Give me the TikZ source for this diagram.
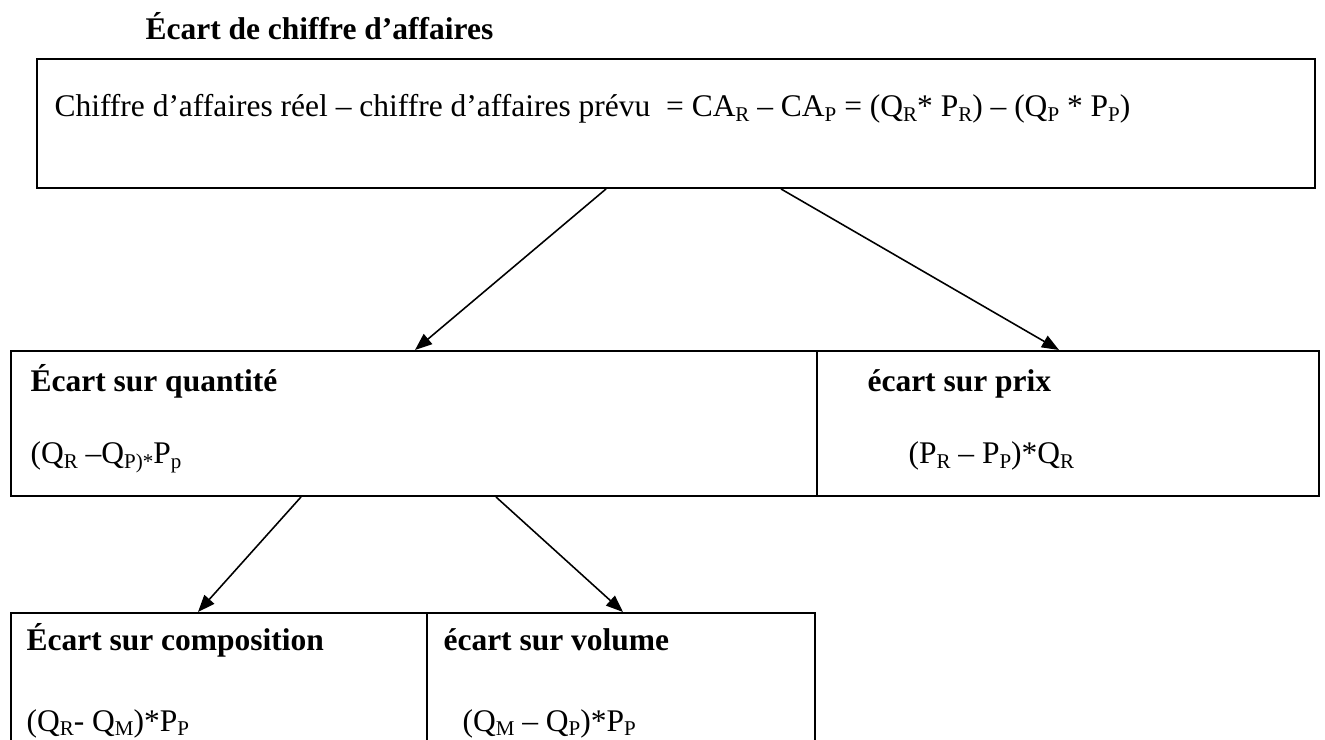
\documentclass[tikz,border=0pt]{standalone}
\usepackage{fontspec}
\setmainfont{Liberation Serif}
\usetikzlibrary{arrows.meta, calc}
% indice a la Word (petit, a peine descendu)
\newcommand{\ix}[1]{\raisebox{-0.15em}{\fontsize{8}{8}\selectfont #1}}

\begin{document}
\begin{tikzpicture}[
    x=0.381pt, y=-0.381pt,
    >={Triangle[length=6.5pt, width=5pt]},
    % 1. cadres (cellules)
    cell/.style={
        draw=black,
        line width=0.8pt,
        anchor=north west,
        inner sep=0pt
    },
    % 2. textes
    txt/.style={
        anchor=base west,
        inner sep=0pt,
        font=\fontsize{12}{14}\selectfont
    },
    head/.style={
        txt,
        font=\fontsize{12}{14}\selectfont\bfseries
    },
    % fleches
    arrow/.style={
        ->,
        line width=0.6pt,
        draw=black
    }
]
    \useasboundingbox (0,0) rectangle (1325,740);

    % --- 1. Titre et cadre du haut ---
    \node[head] (title) at (145,40) {Écart de chiffre d’affaires};

    \node[cell, minimum width=486.9pt, minimum height=49.1pt] (ca) at (36,58) {};
    \node[txt] (catext) at (54,117)
        {Chiffre d’affaires réel – chiffre d’affaires prévu \ = CA\ix{R} – CA\ix{P} = (Q\ix{R}* P\ix{R}) – (Q\ix{P} * P\ix{P})};

    % --- 2. Ecart sur quantite / ecart sur prix ---
    \node[cell, minimum width=307.1pt, minimum height=55.2pt] (qte) at (10,350) {};
    \node[cell, minimum width=191.3pt, minimum height=55.2pt] (prix) at (816,350) {};

    \node[head] (qtehead) at (30,392) {Écart sur quantité};
    \node[txt] (qteform) at (30,464) {(Q\ix{R} –Q\ix{P)*}P\ix{p}};
    \node[head] (prixhead) at (867,392) {écart sur prix};
    \node[txt] (prixform) at (908,464) {(P\ix{R} – P\ix{P})*Q\ix{R}};

    % --- 3. Composition / volume (cadre ouvert en bas) ---
    \node[cell, minimum width=158.5pt, minimum height=56.4pt] (comp) at (10,612) {};
    \node[cell, minimum width=147.8pt, minimum height=56.4pt] (vol) at (426,612) {};

    \node[head] (comphead) at (26,650) {Écart sur composition};
    \node[txt] (compform) at (26,731) {(Q\ix{R}- Q\ix{M})*P\ix{P}};
    \node[head] (volhead) at (443,650) {écart sur volume};
    \node[txt] (volform) at (462,731) {(Q\ix{M} – Q\ix{P})*P\ix{P}};

    % --- 4. Fleches ---
    \draw[arrow] ($(ca.south west)+(570,0)$) -- ($(qte.north west)+(405,0)$);
    \draw[arrow] ($(ca.south west)+(745,0)$) -- ($(prix.north west)+(243,0)$);
    \draw[arrow] ($(qte.south west)+(291,0)$) -- ($(comp.north west)+(188,0)$);
    \draw[arrow] ($(qte.south west)+(486,0)$) -- ($(vol.north west)+(197,0)$);

\end{tikzpicture}
\end{document}
